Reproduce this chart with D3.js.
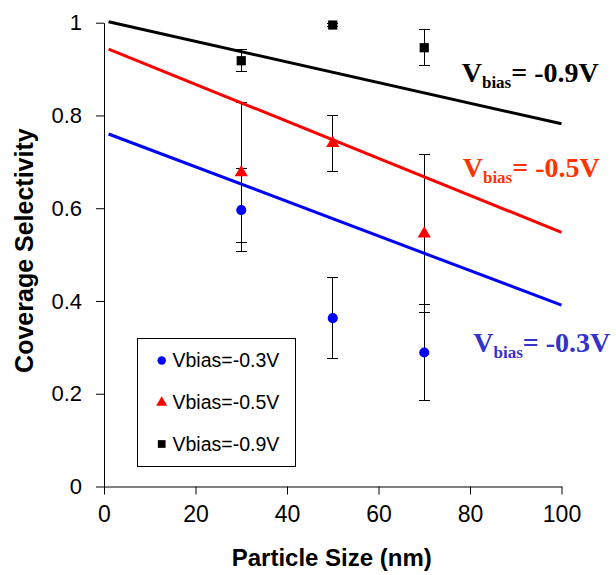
<!DOCTYPE html>
<html>
<head>
<meta charset="utf-8">
<script src="https://cdn.jsdelivr.net/npm/d3@7"></script>
<style>
  body { margin: 0; background: #fff; }
  svg { display: block; }
  .tick text { font-family: "Liberation Sans", Arial, sans-serif; }
</style>
</head>
<body>
<div id="chart"></div>
<script>
// data
const particleSizes = [30, 50, 70];
const seriesNames = ["Vbias=-0.3V", "Vbias=-0.5V", "Vbias=-0.9V"];
const selectivity03 = [0.596, 0.363, 0.289];
const selectivity05 = [0.677, 0.740, 0.545];
const selectivity09 = [0.918, 0.995, 0.946];
const error03 = [0.09, 0.087, 0.103];
const error05 = [0.15, 0.06, 0.17];
const error09 = [0.024, 0.004, 0.039];
// trend line end values at x = 1 and x = 100
const trendX = [1, 100];
const trend03 = [0.760, 0.391];
const trend05 = [0.943, 0.548];
const trend09 = [1.002, 0.782];
const xTicks = [0, 20, 40, 60, 80, 100];
const yTicks = [0, 0.2, 0.4, 0.6, 0.8, 1];
const annotValues = ["-0.3V", "-0.5V", "-0.9V"];

const W = 616, H = 575;
const plotLeft = 104, plotRight = 561.5, plotTop = 22.7, plotBottom = 486.5;

const series = [
  { name: seriesNames[0], y: selectivity03, err: error03, trend: trend03, color: "#0000ff", text: "#3333cc", shape: "circle", annot: annotValues[0], ax: 473.3, ay: 351.7 },
  { name: seriesNames[1], y: selectivity05, err: error05, trend: trend05, color: "#ff0000", text: "#ff3300", shape: "triangle", annot: annotValues[1], ax: 462.7, ay: 176.7 },
  { name: seriesNames[2], y: selectivity09, err: error09, trend: trend09, color: "#000000", text: "#000000", shape: "square", annot: annotValues[2], ax: 461.7, ay: 81.7 }
];

const x = d3.scaleLinear().domain([0, 100]).range([plotLeft, plotRight]);
const y = d3.scaleLinear().domain([0, 1]).range([plotBottom, plotTop]);

const svg = d3.select("#chart").append("svg")
  .attr("width", W).attr("height", H);

// axes
const xAxis = svg.append("g")
  .attr("transform", `translate(0,${plotBottom})`)
  .call(d3.axisBottom(x).tickValues(xTicks).tickSize(8).tickPadding(11).tickSizeOuter(0).tickFormat(d3.format("d")));
xAxis.selectAll("text").attr("font-size", 23).attr("fill", "#000");

const yAxis = svg.append("g")
  .attr("transform", `translate(${plotLeft},0)`)
  .call(d3.axisLeft(y).tickValues(yTicks).tickSize(8).tickPadding(14).tickSizeOuter(0).tickFormat(d => d === 0 || d === 1 ? d : d3.format(".1f")(d)));
yAxis.selectAll("text").attr("font-size", 22).attr("fill", "#000");

svg.selectAll(".domain, .tick line").attr("stroke", "#000");

// axis titles
svg.append("text")
  .attr("x", (plotLeft + plotRight) / 2 - 1).attr("y", 566)
  .attr("text-anchor", "middle")
  .attr("font-family", "Liberation Sans, Arial, sans-serif")
  .attr("font-weight", "bold").attr("font-size", 24)
  .text("Particle Size (nm)");

svg.append("text")
  .attr("transform", `translate(33,${(plotTop + plotBottom) / 2 - 4}) rotate(-90)`)
  .attr("text-anchor", "middle")
  .attr("font-family", "Liberation Sans, Arial, sans-serif")
  .attr("font-weight", "bold").attr("font-size", 25)
  .text("Coverage Selectivity");

// error bars
const cap = 5.5;
series.forEach(s => {
  const g = svg.append("g").attr("stroke", "#000").attr("stroke-width", 1).attr("shape-rendering", "crispEdges");
  particleSizes.forEach((px, i) => {
    const hi = y(s.y[i] + s.err[i]), lo = y(s.y[i] - s.err[i]), cx = x(px);
    g.append("line").attr("x1", cx).attr("x2", cx).attr("y1", hi).attr("y2", lo);
    g.append("line").attr("x1", cx - cap).attr("x2", cx + cap).attr("y1", hi).attr("y2", hi);
    g.append("line").attr("x1", cx - cap).attr("x2", cx + cap).attr("y1", lo).attr("y2", lo);
  });
});

// trend lines
const line = d3.line().x(d => x(d[0])).y(d => y(d[1]));
series.forEach(s => {
  svg.append("path")
    .datum(trendX.map((t, i) => [t, s.trend[i]]))
    .attr("d", line)
    .attr("fill", "none")
    .attr("stroke", s.color)
    .attr("stroke-width", 3);
});

// markers
const symbolFor = { circle: d3.symbolCircle, triangle: d3.symbolTriangle, square: d3.symbolSquare };
const sizeFor = { circle: 80, triangle: 75, square: 85 };
function marker(g, s, cx, cy, k = 1) {
  g.append("path")
    .attr("d", d3.symbol().type(symbolFor[s.shape]).size(sizeFor[s.shape] * k)())
    .attr("transform", `translate(${cx},${cy})`)
    .attr("fill", s.color);
}
series.forEach(s => {
  particleSizes.forEach((px, i) => marker(svg, s, x(px), y(s.y[i])));
});

// annotations
series.forEach(s => {
  const t = svg.append("text")
    .attr("x", s.ax).attr("y", s.ay)
    .attr("font-family", "Liberation Serif, Times New Roman, serif")
    .attr("font-weight", "bold")
    .attr("font-size", 28)
    .attr("fill", s.text);
  t.append("tspan").text("V");
  t.append("tspan").attr("font-size", 17).attr("dy", 6).text("bias");
  t.append("tspan").attr("dy", -6).text("= " + s.annot);
});

// legend
const lg = svg.append("g");
lg.append("rect")
  .attr("x", 137.5).attr("y", 338.5).attr("width", 158).attr("height", 128)
  .attr("fill", "#fff").attr("stroke", "#000").attr("stroke-width", 1);
const rowY = [360.5, 402.5, 444];
series.forEach((s, i) => {
  marker(lg, s, 161.7, rowY[i], 0.7);
  lg.append("text")
    .attr("x", 172.5).attr("y", rowY[i] + 6.5)
    .attr("font-family", "Liberation Sans, Arial, sans-serif")
    .attr("font-size", 19.5)
    .text(s.name);
});
</script>
</body>
</html>
